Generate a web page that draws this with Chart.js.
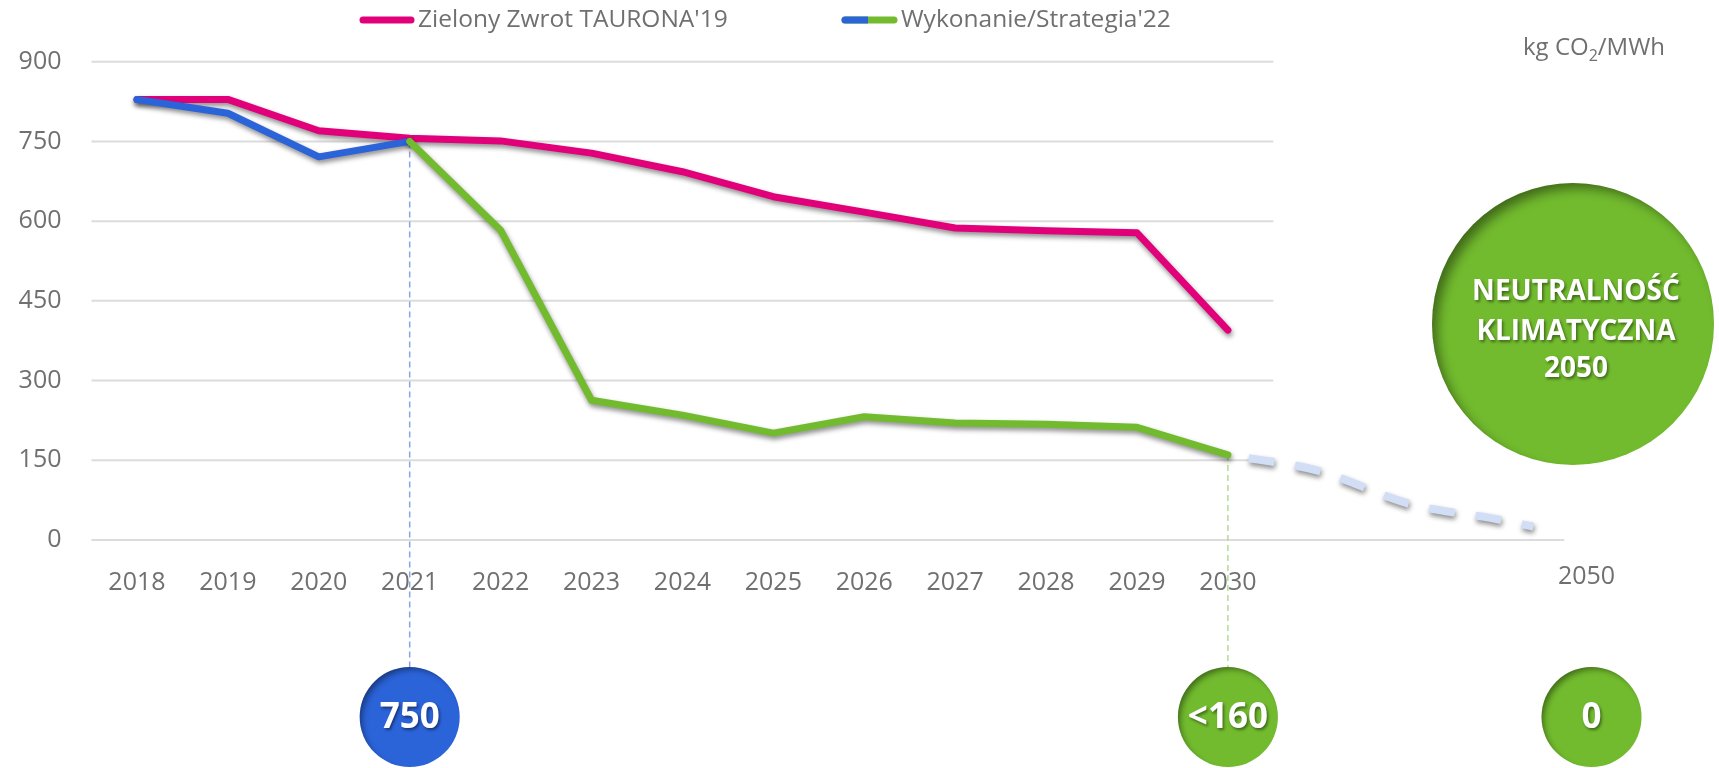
<!DOCTYPE html>
<html lang="pl">
<head>
<meta charset="utf-8">
<title>Emisyjność CO2 – TAURON</title>
<script src="https://cdn.jsdelivr.net/npm/chart.js@4.4.1/dist/chart.umd.min.js"></script>
<style>
  html, body { margin: 0; padding: 0; background: #fff; }
  #wrap { width: 1719px; height: 768px; }
</style>
</head>
<body>
<div id="wrap"><canvas id="emissionChart" width="1719" height="768"></canvas></div>
<script>
// ---- data ----
const years = ["2018", "2019", "2020", "2021", "2022", "2023", "2024",
               "2025", "2026", "2027", "2028", "2029", "2030"];
const targetYear = "2050";
const targetSlot = 16;             // 2050 sits past the yearly axis

const zielonyZwrot = [829, 829, 770, 756, 751, 728, 693, 646, 617, 587, 582, 578, 395];
const wykonanie    = [829, 803, 721, 750];                                // 2018-2021
const strategia    = [750, 583, 263, 235, 201, 232, 220, 218, 212, 160];  // 2021-2030

// trend 2030 -> 2050 (axis slots)
const projectionSlots  = [12, 13, 14, 15, 15.36];
const projectionValues = [160, 130, 68, 38, 25];

const yMin = 0, yMax = 900, yStep = 150;

const milestoneSlots  = [3, 12, targetSlot];
const milestoneValues = [750, 160, 0];
const milestonePrefix = ["", "<", ""];

const labelZielony   = "Zielony Zwrot TAURONA'19";
const labelWykonanie = "Wykonanie/Strategia'22";
const unitLabel      = ["kg CO", "2", "/MWh"];
const neutralLines   = ["NEUTRALNOŚĆ", "KLIMATYCZNA", "2050"];

// ---- colours ----
const PINK  = "#e2007a";
const BLUE  = "#2b63d9";
const GREEN = "#72bb2e";
const TREND = "#d2def5";
const GREY  = "#707070";
const FONT  = "'Open Sans', 'DejaVu Sans', sans-serif";

Chart.defaults.font.family = FONT;

function toPoints(values, firstSlot) {
  return values.map((v, i) => ({ x: firstSlot + i, y: v }));
}

// soft drop shadow under every line
const lineShadow = {
  id: "lineShadow",
  beforeDatasetDraw(chart) {
    const c = chart.ctx;
    c.save();
    c.shadowColor = "rgba(0,0,0,0.45)";
    c.shadowBlur = 5;
    c.shadowOffsetX = 1;
    c.shadowOffsetY = 3;
  },
  afterDatasetDraw(chart) {
    chart.ctx.restore();
  }
};

// disc with a darker inner rim on the upper left
function drawDisc(ctx, x, y, r, color, off, blur) {
  ctx.save();
  ctx.beginPath();
  ctx.arc(x, y, r, 0, Math.PI * 2);
  ctx.fillStyle = color;
  ctx.fill();
  ctx.clip();
  // ring kept just outside the disc so only its shadow falls inside
  ctx.beginPath();
  ctx.arc(x, y, r + 60, 0, Math.PI * 2);
  ctx.arc(x, y, r + 2, 0, Math.PI * 2, true);
  ctx.shadowColor = "rgba(0,0,0,0.45)";
  ctx.shadowBlur = blur;
  ctx.shadowOffsetX = off + 2;
  ctx.shadowOffsetY = off + 2;
  ctx.fillStyle = "#000";
  ctx.fill();
  ctx.restore();
}

function shadowText(ctx, text, x, y, font) {
  ctx.save();
  ctx.font = font;
  ctx.fillStyle = "#fff";
  ctx.textAlign = "center";
  ctx.textBaseline = "middle";
  ctx.shadowColor = "rgba(0,0,0,0.45)";
  ctx.shadowBlur = 3;
  ctx.shadowOffsetX = 1.5;
  ctx.shadowOffsetY = 2;
  ctx.fillText(text, x, y);
  ctx.restore();
}

// grid, guides, badges, legend, unit
const decorations = {
  id: "decorations",
  beforeDatasetsDraw(chart) {
    const { ctx, scales: { x, y } } = chart;
    ctx.save();

    // horizontal grid ends half a slot after 2030, the zero line runs on towards 2050
    ctx.strokeStyle = "#dcdcdc";
    ctx.lineWidth = 2;
    const gridEnd = x.getPixelForValue(years.length - 0.5);
    y.ticks.forEach((t) => {
      const py = y.getPixelForValue(t.value);
      ctx.beginPath();
      ctx.moveTo(chart.chartArea.left, py);
      ctx.lineTo(t.value === 0 ? x.getPixelForValue(15.7) : gridEnd, py);
      ctx.stroke();
    });

    // dashed guides from the line down to the badges
    const badgeTop = 667;
    ctx.lineWidth = 1.5;
    ctx.setLineDash([6, 4]);
    ctx.strokeStyle = "#86a4e8";
    ctx.beginPath();
    ctx.moveTo(x.getPixelForValue(milestoneSlots[0]), y.getPixelForValue(milestoneValues[0]));
    ctx.lineTo(x.getPixelForValue(milestoneSlots[0]), badgeTop);
    ctx.stroke();
    ctx.strokeStyle = "#b2dc94";
    ctx.beginPath();
    ctx.moveTo(x.getPixelForValue(milestoneSlots[1]), y.getPixelForValue(milestoneValues[1]));
    ctx.lineTo(x.getPixelForValue(milestoneSlots[1]), badgeTop);
    ctx.stroke();
    ctx.restore();
  },
  afterDraw(chart) {
    const { ctx, scales: { x } } = chart;

    // 2050 label, a little above the yearly ones
    ctx.save();
    ctx.fillStyle = GREY;
    ctx.font = "25px " + FONT;
    ctx.textAlign = "center";
    ctx.textBaseline = "middle";
    ctx.fillText(targetYear, x.getPixelForValue(targetSlot) - 5, 577);
    ctx.restore();

    // milestone badges
    const badgeColors = [BLUE, GREEN, GREEN];
    milestoneSlots.forEach((slot, i) => {
      const cx = x.getPixelForValue(slot);
      drawDisc(ctx, cx, 717, 50, badgeColors[i], 2, 6);
      shadowText(ctx, milestonePrefix[i] + milestoneValues[i], cx, 718, "bold 35px " + FONT);
    });

    // climate neutrality disc
    drawDisc(ctx, 1573, 324, 141, GREEN, 5, 12);
    const lineY = [292, 332, 369];
    neutralLines.forEach((t, i) => shadowText(ctx, t, 1576, lineY[i], "bold 28px " + FONT));

    // legend
    ctx.save();
    ctx.lineWidth = 7;
    ctx.lineCap = "round";
    ctx.strokeStyle = PINK;
    ctx.beginPath(); ctx.moveTo(363, 20); ctx.lineTo(411, 20); ctx.stroke();
    ctx.strokeStyle = GREEN;
    ctx.beginPath(); ctx.moveTo(845, 20); ctx.lineTo(894, 20); ctx.stroke();
    ctx.save();
    ctx.beginPath(); ctx.rect(830, 0, 38, 40); ctx.clip();
    ctx.strokeStyle = BLUE;
    ctx.beginPath(); ctx.moveTo(845, 20); ctx.lineTo(894, 20); ctx.stroke();
    ctx.restore();

    ctx.fillStyle = GREY;
    ctx.font = "24.5px " + FONT;
    ctx.textBaseline = "middle";
    ctx.textAlign = "left";
    ctx.fillText(labelZielony, 418, 20);
    ctx.fillText(labelWykonanie, 901, 20);

    // unit with subscript
    ctx.textBaseline = "alphabetic";
    let ux = 1523;
    ctx.font = "24px " + FONT;
    ctx.fillText(unitLabel[0], ux, 55);
    ux += ctx.measureText(unitLabel[0]).width;
    ctx.font = "16px " + FONT;
    ctx.fillText(unitLabel[1], ux, 61);
    ux += ctx.measureText(unitLabel[1]).width;
    ctx.font = "24px " + FONT;
    ctx.fillText(unitLabel[2], ux, 55);
    ctx.restore();
  }
};

const ctx = document.getElementById("emissionChart");

new Chart(ctx, {
  type: "line",
  data: {
    datasets: [
      {
        label: labelWykonanie,
        data: toPoints(strategia, years.indexOf("2021")),
        borderColor: GREEN,
        order: 0
      },
      {
        label: labelWykonanie,
        data: toPoints(wykonanie, 0),
        borderColor: BLUE,
        order: 1
      },
      {
        label: labelZielony,
        data: toPoints(zielonyZwrot, 0),
        borderColor: PINK,
        order: 2
      },
      {
        label: "trend",
        data: projectionSlots.map((s, i) => ({ x: s, y: projectionValues[i] })),
        borderColor: TREND,
        borderWidth: 8,
        borderDash: [26, 21],
        borderDashOffset: 26,
        borderCapStyle: "butt",
        cubicInterpolationMode: "monotone",
        order: 3
      }
    ]
  },
  options: {
    responsive: false,
    animation: false,
    layout: { padding: { top: 61.7, right: 82, bottom: 0, left: 0 } },
    elements: {
      point: { radius: 0, hoverRadius: 0 },
      line: {
        borderWidth: 7,
        borderCapStyle: "round",
        borderJoinStyle: "round",
        tension: 0,
        fill: false
      }
    },
    datasets: { line: { clip: false } },
    plugins: {
      legend: { display: false },
      tooltip: { enabled: false }
    },
    scales: {
      x: {
        type: "linear",
        min: -0.5,
        max: 16.5,
        grid: { display: false },
        border: { display: false },
        afterBuildTicks(scale) {
          scale.ticks = years.map((_, i) => ({ value: i }));
        },
        ticks: {
          autoSkip: false,
          maxRotation: 0,
          padding: 20,
          color: GREY,
          font: { size: 25 },
          callback: (v) => years[v]
        },
        afterFit(scale) { scale.height = 228; }
      },
      y: {
        min: yMin,
        max: yMax,
        border: { display: false },
        grid: { display: false, drawTicks: false },
        ticks: {
          stepSize: yStep,
          padding: 30,
          color: GREY,
          font: { size: 25 }
        },
        afterFit(scale) { scale.width = 91.5; }
      }
    }
  },
  plugins: [lineShadow, decorations]
});
</script>
</body>
</html>
